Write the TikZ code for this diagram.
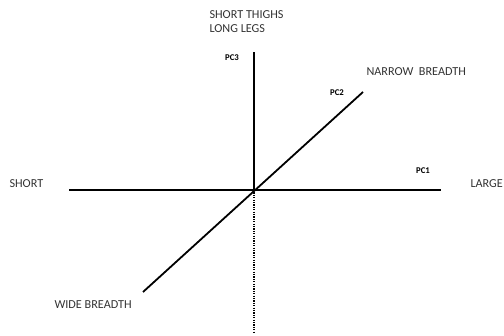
\documentclass[tikz,border=0pt]{standalone}
\usepackage{fontspec}
\setmainfont{Carlito}
\begin{document}
\begin{tikzpicture}[x=1pt,y=-1pt,
  axis/.style={line width=1.8pt},
  lbl/.style={font=\fontsize{12.2}{14}\selectfont,text=black!80},
  pc/.style={font=\fontsize{8.8}{10}\selectfont\bfseries}]
\useasboundingbox (0,0) rectangle (504,336);
\coordinate (O) at (254,190);
\coordinate (left) at (69,190);
\coordinate (right) at (441,190);
\coordinate (top) at (254,52);
\coordinate (bottom) at (254,333);
\coordinate (ne) at (363,92);
\coordinate (sw) at (143,292);
\draw[axis] (left)--(right);
\draw[axis] (O)--(top);
\draw[axis] (sw)--(ne);
\draw[line width=1.8pt,dash pattern=on 1.2pt off 1.2pt] (O)--(bottom);
\node[lbl,align=left,anchor=north west] (pc3label) at (206,7) {SHORT THIGHS\\LONG LEGS};
\node[pc] (pc3) at (232,58) {PC3};
\node[pc] (pc2) at (337,93) {PC2};
\node[pc] (pc1) at (423,171) {PC1};
\node[lbl,anchor=west] (narrow) at (363,72) {NARROW\ \ BREADTH};
\node[lbl,anchor=west] (short) at (6,184) {SHORT};
\node[lbl,anchor=west] (large) at (467,184) {LARGE};
\node[lbl,anchor=west] (wide) at (51,305) {WIDE BREADTH};
\end{tikzpicture}
\end{document}
